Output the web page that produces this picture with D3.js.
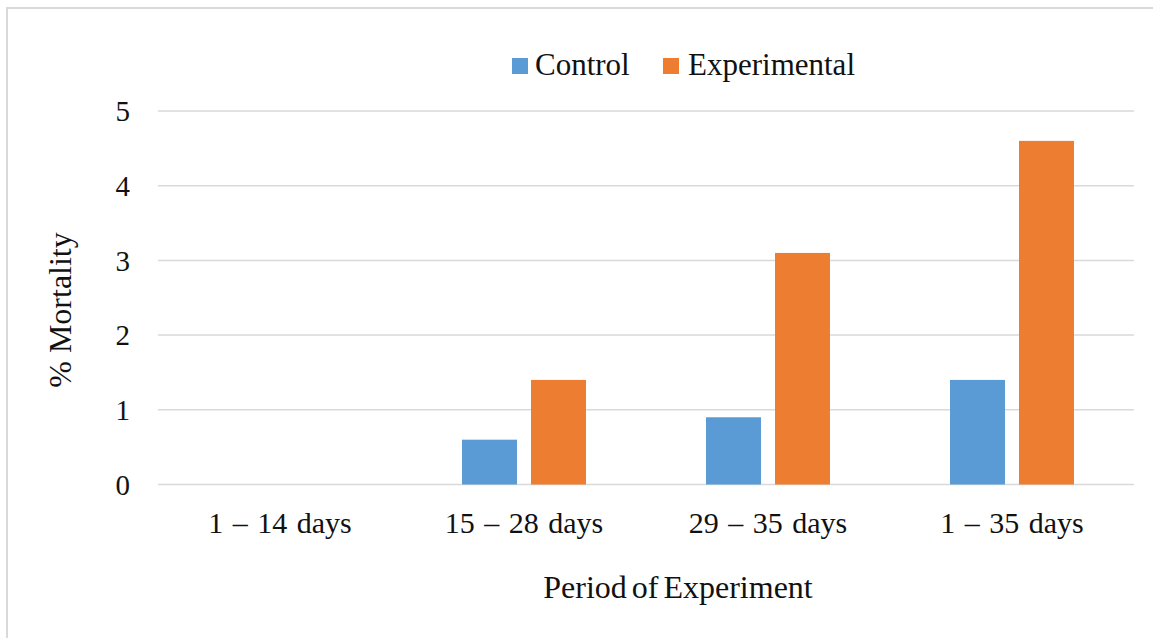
<!DOCTYPE html>
<html>
<head>
<script src="https://d3js.org/d3.v7.min.js"></script>
<style>
  body { margin: 0; background: #fff; }
  text { font-family: "Liberation Serif", "Times New Roman", serif; fill: #111; }
</style>
</head>
<body>
<svg id="viz"></svg>
<script>
// chart data
var periods = ["1 \u2013 14 days", "15 \u2013 28 days", "29 \u2013 35 days", "1 \u2013 35 days"];
var seriesNames = ["Control", "Experimental"];
var control = [0, 0.6, 0.9, 1.4];
var experimental = [0, 1.4, 3.1, 4.6];
var yTicks = [0, 1, 2, 3, 4, 5];
var colors = ["#5b9bd5", "#ed7d31"];

var width = 1153, height = 638;
var margin = {left: 158, right: 19, top: 111, bottom: 153};

var svg = d3.select("#viz").attr("width", width).attr("height", height);

// outer chart border (runs off the right/bottom of the picture)
svg.append("rect")
  .attr("x", 7).attr("y", 8)
  .attr("width", 1160).attr("height", 650)
  .attr("fill", "none")
  .attr("stroke", "#d9d9d9")
  .attr("stroke-width", 2);

var x0 = d3.scaleBand()
  .domain(periods)
  .range([margin.left, width - margin.right]);

var x1 = d3.scaleBand()
  .domain(seriesNames)
  .range([0, x0.bandwidth()])
  .paddingInner(0.203)
  .paddingOuter(0.87);

var y = d3.scaleLinear()
  .domain([0, 5])
  .range([height - margin.bottom - 0.5, margin.top]);

// gridlines
svg.append("g")
  .selectAll("line")
  .data(yTicks)
  .enter().append("line")
  .attr("x1", margin.left).attr("x2", width - margin.right)
  .attr("y1", d => y(d)).attr("y2", d => y(d))
  .attr("stroke", "#d9d9d9")
  .attr("stroke-width", 1.5);

// y tick labels
svg.append("g")
  .selectAll("text")
  .data(yTicks)
  .enter().append("text")
  .attr("x", 130)
  .attr("y", d => y(d))
  .attr("dy", "0.35em")
  .attr("text-anchor", "end")
  .style("font-size", "29px")
  .text(d => d);

// bars
var rows = periods.map(function (p, i) {
  return {period: p, values: [control[i], experimental[i]]};
});

var groups = svg.append("g")
  .selectAll("g")
  .data(rows)
  .enter().append("g")
  .attr("transform", d => "translate(" + x0(d.period) + ",0)");

groups.selectAll("rect")
  .data(d => d.values.map((v, j) => ({name: seriesNames[j], value: v, j: j})))
  .enter().append("rect")
  .filter(d => d.value > 0)
  .attr("x", d => x1(d.name))
  .attr("width", x1.bandwidth())
  .attr("y", d => y(d.value))
  .attr("height", d => y(0) - y(d.value))
  .attr("fill", d => colors[d.j]);

// x category labels
svg.append("g")
  .selectAll("text")
  .data(periods)
  .enter().append("text")
  .attr("x", d => x0(d) + x0.bandwidth() / 2)
  .attr("y", 533)
  .attr("text-anchor", "middle")
  .style("font-size", "30px")
  .style("word-spacing", "2px")
  .text(d => d);

// axis titles
svg.append("text")
  .attr("x", 678)
  .attr("y", 598)
  .attr("text-anchor", "middle")
  .style("font-size", "32px")
  .style("word-spacing", "-3px")
  .text("Period of Experiment");

svg.append("text")
  .attr("transform", "translate(71,310) rotate(-90)")
  .attr("text-anchor", "middle")
  .style("font-size", "32px")
  .text("% Mortality");

// legend
var legendX = [512, 663];
var legend = svg.append("g")
  .selectAll("g")
  .data(seriesNames)
  .enter().append("g")
  .attr("transform", (d, i) => "translate(" + legendX[i] + ",58)");

legend.append("rect")
  .attr("width", 16).attr("height", 16)
  .attr("fill", (d, i) => colors[i]);

legend.append("text")
  .attr("x", (d, i) => i ? 25 : 23)
  .attr("y", 17)
  .style("font-size", "31px")
  .text(d => d);
</script>
</body>
</html>
